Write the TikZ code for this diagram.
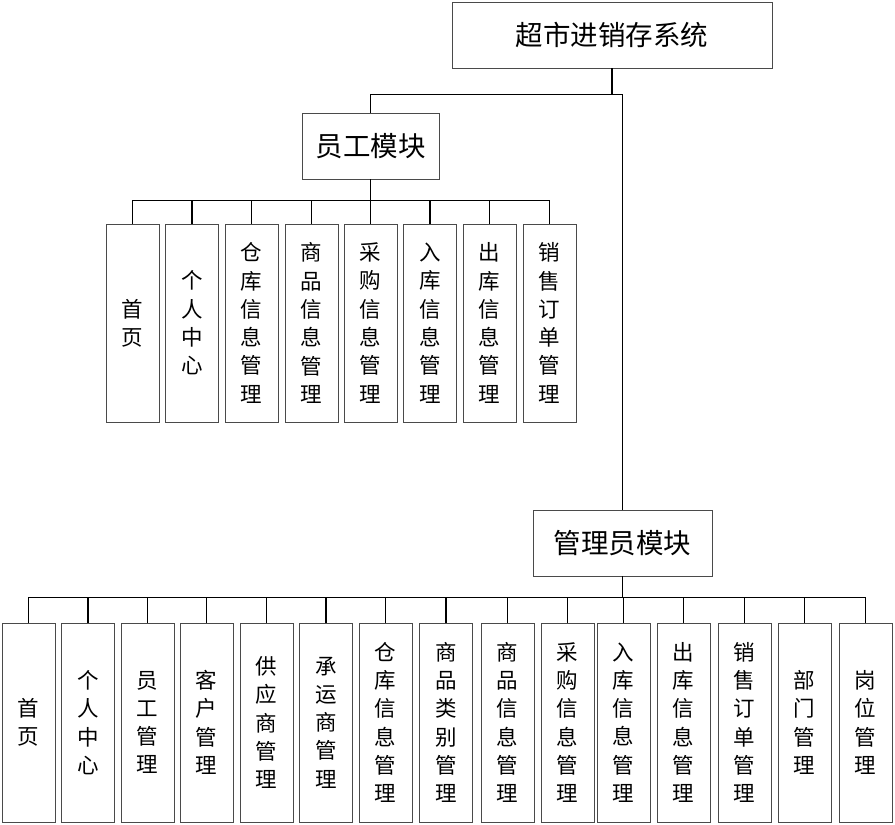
\documentclass[tikz,border=0pt]{standalone}
\usepackage{fontspec}
\setmainfont{Noto Sans CJK SC}
\usepackage{tikz}
\usetikzlibrary{positioning}
\definecolor{ink}{HTML}{000000}
\definecolor{boxline}{HTML}{4A4A4A}

\tikzset{
  modbox/.style={draw=boxline,line width=0.9pt,fill=white,inner sep=0pt,font=\fontsize{27.5}{30}\selectfont},
  leafbox/.style={draw=boxline,line width=0.9pt,fill=white,inner sep=0pt,minimum width=53pt,
    minimum height=198pt,align=center,font=\fontsize{21.5}{28.3}\selectfont},
  wire/.style={draw=ink,line width=1.1pt},
}

\begin{document}
\begin{tikzpicture}[x=1pt,y=-1pt]
  \useasboundingbox (0,0) rectangle (895,825);

  % System and the two modules.
  \node[modbox,minimum width=320pt,minimum height=66pt] (sys) at (612,35) {超市进销存系统};
  \node[modbox,minimum width=137pt,minimum height=66pt] (staff) at (370.5,146) {员工模块};
  \node[modbox,minimum width=179pt,minimum height=66pt] (admin) at (622.5,543) {管理员模块};

  \draw[wire] (sys.south) -- ++(0,26) coordinate (split) -| (staff.north);
  \draw[wire] (split) -| (admin.north);

  % Staff module leaves.
  \foreach \i/\xx/\lab in {1/132.5/{首\\页},2/192/{个\\人\\中\\心},3/251.5/{仓\\库\\信\\息\\管\\理},
    4/311.5/{商\\品\\信\\息\\管\\理},5/370.5/{采\\购\\信\\息\\管\\理},6/430/{入\\库\\信\\息\\管\\理},
    7/489.5/{出\\库\\信\\息\\管\\理},8/549.5/{销\\售\\订\\单\\管\\理}}{
    \node[leafbox] (s\i) at (\xx,323) {\lab};
    \draw[wire] (staff.south) -- ++(0,21) -| (s\i.north);
  }

  % Admin module leaves.
  \foreach \i/\xx/\lab in {1/28.5/{首\\页},2/88/{个\\人\\中\\心},3/147.5/{员\\工\\管\\理},
    4/206.5/{客\\户\\管\\理},5/266.5/{供\\应\\商\\管\\理},6/326/{承\\运\\商\\管\\理},
    7/385.5/{仓\\库\\信\\息\\管\\理},8/446/{商\\品\\类\\别\\管\\理},9/507.5/{商\\品\\信\\息\\管\\理},
    10/567.5/{采\\购\\信\\息\\管\\理},11/623.5/{入\\库\\信\\息\\管\\理},12/683.5/{出\\库\\信\\息\\管\\理},
    13/744.5/{销\\售\\订\\单\\管\\理},14/804.5/{部\\门\\管\\理},15/865.5/{岗\\位\\管\\理}}{
    \node[leafbox,minimum height=199pt] (a\i) at (\xx,722.5) {\lab};
    \draw[wire] (admin.south) -- ++(0,21) -| (a\i.north);
  }
\end{tikzpicture}
\end{document}
